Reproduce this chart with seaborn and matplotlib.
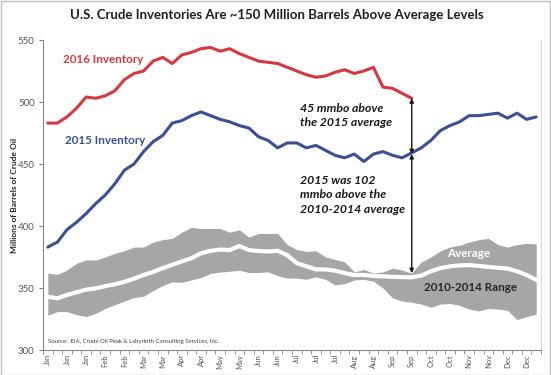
import matplotlib
matplotlib.use("Agg")
import matplotlib.pyplot as plt
from matplotlib.patches import Rectangle
import numpy as np
import seaborn as sns

# ---------------- data ----------------
weeks = list(range(52))
month_labels = ["Jan", "Jan", "Jan", "Feb", "Feb", "Mar", "Mar", "Apr", "Apr", "May", "May",
                "Jun", "Jun", "Jul", "Jul", "Jul", "Aug", "Aug", "Sep", "Sep", "Oct", "Oct",
                "Nov", "Nov", "Dec", "Dec"]
inv_2016 = [483, 483, 488, 495, 504, 503, 505, 509, 518, 523,
            525, 533, 536, 531, 538, 540, 543, 544, 541, 543,
            539, 536, 533, 532, 531, 528, 525, 522, 520, 521,
            524, 526, 523, 525, 528, 512, 511, 507, 503]
inv_2015 = [383, 387, 397, 403, 410, 418, 425, 434, 445, 450,
            460, 468, 473, 483, 485, 489, 492, 489, 486, 484,
            481, 479, 472, 469, 463, 467, 467, 463, 465, 461,
            457, 455, 458, 452, 458, 460, 457, 455, 459, 463,
            469, 477, 481, 484, 489, 489, 490, 491, 487, 491,
            486, 488]
range_hi = [362, 361, 364.5, 370, 372.6, 372.6, 375, 378, 380, 383,
            383, 387, 389, 390, 395, 399, 398, 398, 398, 395,
            397, 391, 394, 394, 394, 385, 381, 379.5, 380, 375,
            373, 371, 363, 365, 362, 363, 366, 364.5, 362, 371,
            375, 380, 383, 384.5, 387, 389, 390, 385, 383, 385,
            386, 385.5]
range_lo = [328, 331, 331, 328.5, 327, 329.5, 333.5, 336.5, 339.5, 342.3,
            343.3, 348, 352, 355, 354.5, 356.5, 358.5, 361.8, 362.8, 363.5,
            364.3, 362.5, 362.5, 363, 360, 358, 358, 357, 359, 357,
            352.5, 353.5, 356.5, 357, 355.5, 350, 342, 339.5, 338.5, 337,
            334.5, 337, 337.5, 336, 333, 331.5, 333.5, 333, 332, 324.5,
            327, 329]
range_avg = [343, 341.7, 344.4, 346.5, 348.7, 349.7, 351.5, 353, 355, 357.5,
             360.5, 363, 366, 368.7, 371.5, 374, 378, 380, 381, 380.6,
             383.9, 380.6, 379.8, 379.5, 380, 376.5, 370, 367.5, 365, 365,
             364, 362, 360.5, 360.5, 359.8, 359.4, 359, 358.8, 358.6, 360,
             363.5, 366, 367.5, 368.2, 368.5, 367.8, 367, 366.3, 365.7, 363.5,
             360.5, 356.5]

# ---------------- style ----------------
sns.set_style("white")
plt.rcParams['font.family'] = ['Lato', 'DejaVu Sans']

RED = '#D7373F'
NAVY = '#3A4F96'
GRAY_BAND = '#A6A6A6'

fig = plt.figure(figsize=(5.51, 3.75), dpi=100)
ax = fig.add_axes([43 / 551, 25 / 375, (541 - 43) / 551, 310 / 375])

ax.fill_between(weeks, range_lo, range_hi, color=GRAY_BAND, linewidth=0)
sns.lineplot(x=weeks, y=range_avg, color='white', lw=3, ax=ax)
sns.lineplot(x=weeks[:len(inv_2016)], y=inv_2016, color=RED, lw=2.2, ax=ax)
sns.lineplot(x=weeks, y=inv_2015, color=NAVY, lw=2.2, ax=ax)

ax.set_xlim(-0.45, 51.5)
ax.set_ylim(300, 550)

# axes styling
ax.spines['top'].set_visible(False)
ax.spines['right'].set_color('#D9D9D9')
ax.spines['left'].set_color('#868686')
ax.spines['bottom'].set_color('#868686')
ax.spines['left'].set_linewidth(0.8)
ax.spines['bottom'].set_linewidth(0.8)

ax.set_yticks([300, 350, 400, 450, 500, 550])
ax.set_yticklabels([str(v) for v in [300, 350, 400, 450, 500, 550]], fontsize=7, color='#595959')
ax.tick_params(axis='y', length=3, width=0.8, color='#868686', direction='out', left=True, pad=3)

ax.set_xticks(list(range(0, 52, 2)))
ax.set_xticklabels(month_labels, rotation=90, fontsize=5.5, color='#595959')
ax.set_xticks(np.arange(-0.5, 52, 1), minor=True)
ax.tick_params(axis='x', which='major', length=0, pad=3, bottom=True)
ax.tick_params(axis='x', which='minor', length=3, width=0.6, color='#868686', bottom=True)
ax.set_xlabel('')
ax.set_ylabel('')

fig.text(15 / 551, 1 - 195 / 375, 'Millions of Barrels of Crude Oil', rotation=90,
         ha='center', va='center', fontsize=6, fontweight='bold', color='#262626')

# title
fig.text(0.503, 1 - 15 / 375, 'U.S. Crude Inventories Are ~150 Million Barrels Above Average Levels',
         ha='center', va='center', fontsize=9.5, fontweight='bold', color='#1F1F1F')

# series labels
ax.text(1.6, 534, '2016 Inventory', color=RED, fontsize=8.4, fontweight='bold', va='center')
ax.text(1.8, 469, '2015 Inventory', color=NAVY, fontsize=8.4, fontweight='bold', va='center')
ax.text(43.9, 377.5, 'Average', color='white', fontsize=8.4, fontweight='bold', ha='center', va='center')
ax.text(44.1, 350.8, '2010-2014 Range', color='#262626', fontsize=8.4, fontweight='bold',
        ha='center', va='center')

# annotations
ax.text(26.3, 489, '45 mmbo above\nthe 2015 average', fontsize=8.8, fontweight='bold',
        style='italic', va='center', ha='left', linespacing=1.4, color='#1A1A1A')
ax.text(26.3, 425, '2015 was 102\nmmbo above the\n2010-2014 average', fontsize=8.8,
        fontweight='bold', style='italic', va='center', ha='left', linespacing=1.35, color='#1A1A1A')

arrow_kw = dict(arrowstyle='<|-|>', color='#1A1A1A', lw=1.0, mutation_scale=6,
                shrinkA=0, shrinkB=0)
ax.annotate('', xy=(38, 503), xytext=(38, 458), arrowprops=arrow_kw)
ax.annotate('', xy=(38, 362), xytext=(38, 458), arrowprops=arrow_kw)

# source
ax.text(0.01, 0.028, 'Source:  EIA, Crude Oil Peak & Labyrinth Consulting Services, Inc.',
        transform=ax.transAxes, fontsize=4.3, color='#404040', va='center', ha='left')

# outer frame
fig.add_artist(Rectangle((0.001, 0.001), 0.997, 0.996, transform=fig.transFigure,
                         fill=False, edgecolor='#BFBFBF', lw=1))

fig.savefig('out.png', dpi=100)
